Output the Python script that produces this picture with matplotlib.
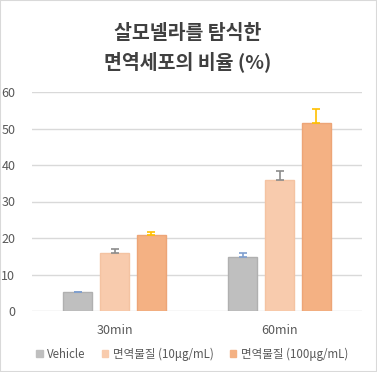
import matplotlib

matplotlib.use("Agg")
import matplotlib.pyplot as plt
import numpy as np
from matplotlib.patches import Rectangle

plt.rcParams["font.family"] = ["Noto Sans CJK KR", "DejaVu Sans"]

# data
categories = ["30min", "60min"]
series_names = ["Vehicle", "면역물질 (10μg/mL)", "면역물질 (100μg/mL)"]
vehicle = [5.1, 14.8]
low_dose = [16.0, 35.9]
high_dose = [20.7, 51.4]
vehicle_err = [0.2, 1.1]
low_err = [1.1, 2.5]
high_err = [1.0, 3.9]
y_ticks = [0, 10, 20, 30, 40, 50, 60]

fill_colors = ["#bfbfbf", "#f8cbad", "#f4b183"]
edge_colors = ["#b0b0b0", "#f4c3a2", "#eda577"]
err_colors = ["#7f9fcf", "#8c8c8c", "#ffc000"]

W, H = 377, 372
fig = plt.figure(figsize=(W / 100, H / 100), dpi=100)
fig.patches.append(Rectangle((0, 0), 1, 1, transform=fig.transFigure,
                             fill=False, edgecolor="#d9d9d9", linewidth=1.5))

ax = fig.add_axes([32 / W, (H - 311) / H, 330 / W, 219 / H])

x = np.arange(len(categories))
width = 0.176
step = 0.224
values = [vehicle, low_dose, high_dose]
errors = [vehicle_err, low_err, high_err]
for i, (vals, errs) in enumerate(zip(values, errors)):
    pos = x + (i - 1) * step
    ax.bar(pos, vals, width, color=fill_colors[i], edgecolor=edge_colors[i],
           linewidth=1, label=series_names[i], zorder=3)
    ax.errorbar(pos, vals, yerr=[np.zeros(len(errs)), errs], fmt="none",
                ecolor=err_colors[i], elinewidth=1.2, capsize=3, capthick=1.2,
                zorder=4)

ax.set_xlim(-0.5, 1.5)
ax.set_ylim(0, 60)
ax.set_yticks(y_ticks)
ax.set_xticks(x)
ax.set_xticklabels(categories)
ax.yaxis.grid(True, color="#d9d9d9", linewidth=1)
ax.set_axisbelow(True)
for side in ["top", "right", "left", "bottom"]:
    ax.spines[side].set_visible(False)
ax.tick_params(axis="both", length=0, labelsize=9, colors="#595959")
ax.tick_params(axis="y", pad=12)
ax.tick_params(axis="x", pad=9)

fig.text(188 / W, 1 - 33 / H, "살모넬라를 탐식한", ha="center", va="center",
         fontsize=14, fontweight="bold", color="#404040")
fig.text(188 / W, 1 - 62 / H, "면역세포의 비율 (%)", ha="center", va="center",
         fontsize=14, fontweight="bold", color="#404040")

handles = [Rectangle((0, 0), 1, 1, color=c) for c in fill_colors]
leg = fig.legend(handles, series_names, loc="center", ncol=3,
                 bbox_to_anchor=(192 / W, 1 - 354 / H), frameon=False,
                 fontsize=8.3, handlelength=0.55, handleheight=0.55,
                 handletextpad=0.4, columnspacing=1.4)
for t in leg.get_texts():
    t.set_color("#595959")

fig.savefig("out.png", dpi=100)
